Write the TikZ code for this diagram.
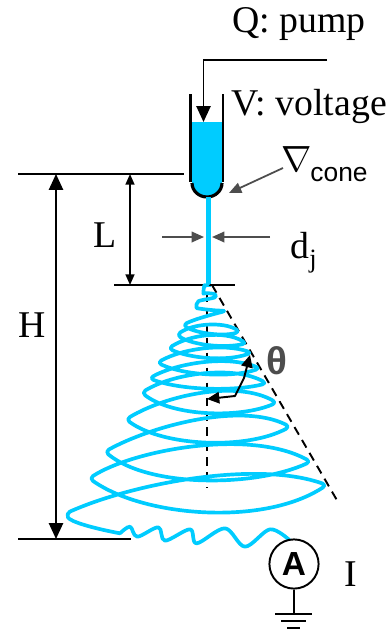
\documentclass[tikz,border=0pt]{standalone}
\usepackage{fontspec}
\setmainfont{Liberation Serif}
\setsansfont{Liberation Sans}
\usepackage{xcolor}
\usetikzlibrary{arrows.meta}
\definecolor{jetblue}{HTML}{00CCFF}
\definecolor{arrowgray}{HTML}{4D4D4D}
\begin{document}
\begin{tikzpicture}[x=0.02cm,y=-0.02cm,>={Triangle[length=9pt,width=8pt]},
  dimline/.style={black,line width=1.1pt},
  graytip/.style={arrowgray,line width=1pt,-{Triangle[length=7pt,width=6pt]}},
  jetline/.style={jetblue,line width=2.1pt,line join=round,line cap=round},
  label/.style={inner sep=0pt,font=\fontsize{21.5}{24}\selectfont}]
\useasboundingbox(0,0)rectangle(389,632);
\fill[white](0,0)rectangle(389,632);
% labels
\node[label](pump)at(299,24){Q: pump};
\node[label](voltage)at(309,106){V: voltage};
\node[label](nabla)at(297,159){\fontsize{22}{24}\selectfont$\nabla$};
\node[inner sep=0pt,font=\sffamily\fontsize{15}{16}\selectfont](cone)at(339,175){cone};
\node[label](dj)at(304,253){d\textsubscript{\raisebox{-2pt}{j}}};
\node[label](Llab)at(105,235){L};
\node[label](Hlab)at(32,325){H};
\node[label](Ilab)at(351,574){I};
\node[inner sep=0pt,text=arrowgray,font=\sffamily\bfseries\fontsize{22}{24}\selectfont](theta)at(277,361){θ};
% nozzle
\fill[jetblue](192,122)--(222,122)--(222,183)arc[start angle=0,end angle=180,x radius=15,y radius=14]--cycle;
\draw[line width=1.6pt](190.5,94)--(190.5,182)
(223,94)--(223,182);
\draw[line width=1.8pt](192,183)arc[start angle=180,end angle=0,x radius=15,y radius=14];
\fill[jetblue](206.2,197)rectangle(211.4,287);
% pump line
\coordinate(pumpend)at(327,60);
\coordinate(pumpcorner)at(203.5,60);
\coordinate(liquidtop)at(203.5,122);
\draw[line width=1.1pt,->](pumpend)--(pumpcorner)--(liquidtop);
% levels
\coordinate(topa)at(18,174);\coordinate(topb)at(184,174);
\coordinate(mida)at(114,285);\coordinate(midb)at(235,285);
\coordinate(bota)at(18,539);\coordinate(botb)at(131,539);
\draw[dimline](topa)--(topb);
\draw[dimline](mida)--(midb);
\draw[dimline](bota)--(botb);
\coordinate(Ha)at(56,174);\coordinate(Hb)at(56,539);
\coordinate(La)at(130,174);\coordinate(Lb)at(130,285);
\draw[dimline,<->](Ha)--(Hb);
\draw[line width=1pt,{Triangle[length=6pt,width=5pt]}-{Triangle[length=6pt,width=5pt]}](La)--(Lb);
% gray arrows
\coordinate(dja)at(162,237);\coordinate(djb)at(204,237);
\coordinate(djc)at(270,237);\coordinate(djd)at(212,237);
\coordinate(conetip)at(229,193);
\coordinate(conetail)at(283,168);
\draw[graytip](dja)--(djb);
\draw[graytip](djc)--(djd);
\draw[graytip](conetail)--(conetip);
% cone axes
\coordinate(apex)at(212,285);\coordinate(coneend)at(338,502);
\coordinate(axisa)at(207,293);\coordinate(axisb)at(207,488);
\draw[line width=1.1pt,dash pattern=on 5pt off 3.5pt](apex)--(coneend);
\draw[line width=1.1pt,dash pattern=on 5pt off 3.5pt](axisa)--(axisb);
% spiral
\begin{scope}[shift={(50,280)},scale=1/3]
\draw[jetline,rounded corners=2.5pt](478,5)..controls(472,18)and(462,20)..(460,28)
..controls(460,38)and(485,40)..(505,45)
..controls(490,55)and(450,60)..(435,72)
..controls(440,85)and(490,92)..(530,92)
..controls(500,100)and(440,115)..(398,135)
..controls(440,160)and(520,170)..(570,155)
..controls(520,125)and(430,130)..(380,165)
..controls(430,195)and(520,205)..(590,190)
..controls(520,150)and(420,165)..(355,205)
..controls(420,235)and(530,245)..(605,218)
..controls(520,190)and(400,205)..(322,248)
..controls(400,285)and(540,295)..(630,265)
..controls(530,225)and(380,250)..(298,295)
..controls(390,330)and(550,335)..(650,310)
..controls(550,255)and(370,280)..(275,338)
..controls(370,410)and(570,415)..(680,368)
..controls(560,300)and(350,345)..(228,418)
..controls(340,500)and(590,510)..(720,440)
..controls(570,365)and(300,440)..(165,515)
..controls(300,625)and(620,620)..(782,545)
..controls(600,445)and(250,510)..(118,595)
..controls(280,710)and(640,740)..(830,615)
..controls(620,540)and(250,610)..(48,700)
..controls(60,725)and(130,745)..(210,760);
\draw[jetline]plot[smooth,tension=0.55]coordinates{
(210,760)(240,740)(262,770)
(325,742)(345,782)(420,748)(440,790)(525,745)(585,800)(660,748)(718,780)};
\end{scope}
% angle arrow
\coordinate(anga)at(207,399);\coordinate(angb)at(235,396);\coordinate(angc)at(244,378);\coordinate(angd)at(250,355);
\draw[line width=1.1pt,line join=round,{Triangle[length=7pt,width=6.5pt]}-{Triangle[length=7pt,width=6.5pt]}](anga)--(angb)--(angc)--(angd);
% ammeter
\node[draw,circle,fill=white,line width=1.1pt,minimum size=28pt,inner sep=0pt,font=\sffamily\bfseries\fontsize{19}{20}\selectfont](meter)at(294,564){A};
\coordinate(groundtop)at(294,614);
\draw[line width=1pt](meter)--(groundtop);
\coordinate(gaa)at(275,614);\coordinate(gab)at(312,614);
\coordinate(gba)at(281,621);\coordinate(gbb)at(306,621);
\coordinate(gca)at(287,628);\coordinate(gcb)at(300,628);
\draw[line width=1pt](gaa)--(gab);
\draw[line width=1pt](gba)--(gbb);
\draw[line width=1pt](gca)--(gcb);
\end{tikzpicture}
\end{document}
